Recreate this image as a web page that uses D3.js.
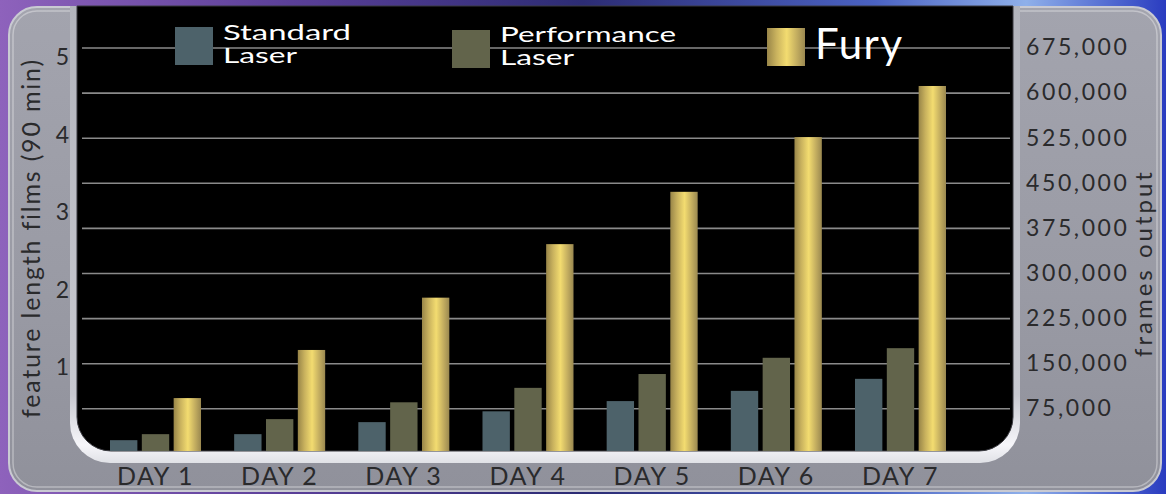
<!DOCTYPE html>
<html>
<head>
<meta charset="utf-8">
<script src="https://cdn.jsdelivr.net/npm/d3@7"></script>
<style>
html,body{margin:0;padding:0;background:#000;}
svg{display:block;}
</style>
</head>
<body>
<svg id="chart" width="1166" height="494"></svg>
<script>
// ---------- data ----------
const days = ["DAY 1","DAY 2","DAY 3","DAY 4","DAY 5","DAY 6","DAY 7"];
const seriesNames = ["Standard Laser","Performance Laser","Fury"];
const standardLaser    = [22000, 32000, 52000, 70000, 87000, 104000, 124000];
const performanceLaser = [32000, 57000, 85000, 109000, 132000, 159000, 175000];
const fury             = [92000, 172000, 259000, 348000, 435000, 526000, 611000];
const frameTicks = [75000,150000,225000,300000,375000,450000,525000,600000,675000];
const filmTicks = [1,2,3,4,5];
const leftTitle = "feature length films (90 min)";
const rightTitle = "frames output";

const seriesValues = [standardLaser, performanceLaser, fury];
const colors = {"Standard Laser":"#4d626a","Performance Laser":"#62644b","Fury":"url(#gold)"};

const svg = d3.select("#chart");
const W = 1166, H = 494;
const FONT = "Lato, 'Open Sans', sans-serif";

const defs = svg.append("defs");
const bg = defs.append("linearGradient").attr("id","bg").attr("x1","0").attr("x2","1").attr("y1","0").attr("y2","0");
[["0%","#8e62bc"],["25%","#5a3f98"],["50%","#2c2c74"],["75%","#4a62c2"],["88%","#8fb0ea"],["100%","#2a3cc0"]]
  .forEach(s=>bg.append("stop").attr("offset",s[0]).attr("stop-color",s[1]));
const pg = defs.append("linearGradient").attr("id","panel").attr("x1","0").attr("x2","0").attr("y1","0").attr("y2","1");
[["0%","#a3a4ae"],["60%","#999aa4"],["100%","#90919b"]].forEach(s=>pg.append("stop").attr("offset",s[0]).attr("stop-color",s[1]));
const bv = defs.append("linearGradient").attr("id","bevel").attr("x1","0").attr("x2","0").attr("y1","0").attr("y2","1");
[["0%","#b2b4bc"],["85%","#c8c9d0"],["96%","#f6f6fa"],["100%","#e0e1e6"]].forEach(s=>bv.append("stop").attr("offset",s[0]).attr("stop-color",s[1]));
const gold = defs.append("linearGradient").attr("id","gold").attr("x1","0").attr("x2","1").attr("y1","0").attr("y2","0");
[["0%","#988548"],["25%","#c9b25e"],["52%","#f3dc70"],["78%","#c4ae60"],["100%","#9a8850"]]
  .forEach(s=>gold.append("stop").attr("offset",s[0]).attr("stop-color",s[1]));

function plotPath(x0,y0,x1,y1,r){
  return `M${x0},${y0}H${x1}V${y1-r}A${r},${r} 0 0 1 ${x1-r},${y1}H${x0+r}A${r},${r} 0 0 1 ${x0},${y1-r}Z`;
}
defs.append("clipPath").attr("id","plotclip").append("path").attr("d", plotPath(77,6,1013,451,34));

// background
svg.append("rect").attr("width",W).attr("height",H).attr("fill","url(#bg)");
// grey panel
svg.append("rect").attr("x",9).attr("y",7).attr("width",1152).attr("height",484).attr("rx",28)
  .attr("fill","url(#panel)").attr("stroke","#c9cad2").attr("stroke-width",2);
svg.append("rect").attr("x",13).attr("y",11).attr("width",1144).attr("height",476).attr("rx",24)
  .attr("fill","none").attr("stroke","rgba(255,255,255,0.35)").attr("stroke-width",1.5);
// bevel + black plot
svg.append("path").attr("d", plotPath(70,6,1020,463,40)).attr("fill","url(#bevel)");
svg.append("path").attr("d", plotPath(77,6,1013,451,34)).attr("fill","#000").attr("stroke","#3a3a40").attr("stroke-width",1);

// ---------- scales ----------
const y = d3.scaleLinear().domain([0,675000]).range([453.4,47.5]);
const yL = d3.scaleLinear().domain([0,5]).range([445,57.5]);
const x = d3.scaleBand().domain(days).range([110,946]).paddingInner(0.267).paddingOuter(0);
const xs = d3.scaleBand().domain(seriesNames).range([0,x.bandwidth()]).paddingInner(0.14);

// gridlines
const grid = svg.append("g").attr("transform","translate(82,0)")
  .call(d3.axisLeft(y).tickValues(frameTicks).tickSize(-928).tickFormat(""));
grid.select(".domain").remove();
grid.selectAll("line").attr("stroke","#8a8a8a").attr("stroke-width",1.6);

// bars
const bars = svg.append("g").attr("clip-path","url(#plotclip)");
days.forEach((d,i)=>{
  seriesNames.forEach((s,j)=>{
    const v = seriesValues[j][i];
    bars.append("rect")
      .attr("x", x(d)+xs(s)).attr("width", xs.bandwidth())
      .attr("y", y(v)).attr("height", y(0)-y(v))
      .attr("fill", colors[s]);
  });
});

// axes
const axR = svg.append("g").attr("transform","translate(1026,0)")
  .call(d3.axisRight(y).tickValues(frameTicks).tickSize(0).tickPadding(0).tickFormat(d3.format(",")));
axR.select(".domain").remove();
axR.selectAll("text").attr("fill","#2a2a2c").style("font-family",FONT).style("font-size","23px").style("letter-spacing","2.6px");

const axL = svg.append("g").attr("transform","translate(69,0)")
  .call(d3.axisLeft(yL).tickValues(filmTicks).tickSize(0).tickPadding(0).tickFormat(d3.format("d")));
axL.select(".domain").remove();
axL.selectAll("text").attr("fill","#2a2a2c").style("font-family",FONT).style("font-size","23px");

const axB = svg.append("g").attr("transform","translate(0,476)")
  .call(d3.axisBottom(x).tickSize(0).tickPadding(0));
axB.select(".domain").remove();
axB.selectAll("text").attr("y",0).attr("dy","0.36em").attr("fill","#2a2a2c")
  .style("font-family",FONT).style("font-size","25px").style("letter-spacing","1.6px");

// axis titles
svg.append("text").attr("transform","translate(40,238) rotate(-90)").attr("text-anchor","middle")
  .attr("fill","#2a2a2c").style("font-family",FONT).style("font-size","25px").style("letter-spacing","1.8px")
  .text(leftTitle);
svg.append("text").attr("transform","translate(1152,263) rotate(-90)").attr("text-anchor","middle")
  .attr("fill","#2a2a2c").style("font-family",FONT).style("font-size","24px").style("letter-spacing","3px")
  .text(rightTitle);

// legend
const legendItems = [
  {name:"Standard Laser", lines:["Standard","Laser"], widths:[128,74], sx:175, sy:27, tx:223, ty:[40,63], size:21},
  {name:"Performance Laser", lines:["Performance","Laser"], widths:[176,74], sx:452, sy:30, tx:500, ty:[42,65], size:21},
  {name:"Fury", lines:["Fury"], widths:[null], sx:767, sy:28, tx:815, ty:[59], size:42}
];
const lg = svg.append("g");
legendItems.forEach(it=>{
  lg.append("rect").attr("x",it.sx).attr("y",it.sy).attr("width",38).attr("height",38).attr("fill",colors[it.name]);
  it.lines.forEach((ln,k)=>{
    const t = lg.append("text").attr("x",it.tx).attr("y",it.ty[k]).attr("fill","#fff")
      .style("font-family",FONT).style("font-size",it.size+"px").text(ln);
    if (it.widths[k]) t.attr("textLength",it.widths[k]).attr("lengthAdjust","spacingAndGlyphs");
    else t.style("letter-spacing","1.5px");
  });
});
</script>
</body>
</html>
